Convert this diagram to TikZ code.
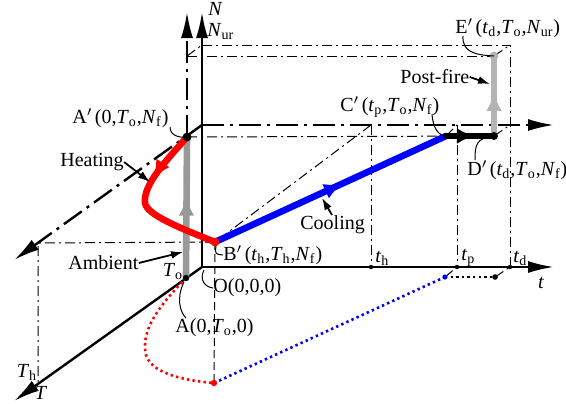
\documentclass[tikz,border=0pt]{standalone}
\usepackage{fontspec}
\setmainfont{Liberation Serif}
\usetikzlibrary{arrows.meta,calc,positioning,decorations.markings}
\definecolor{HeatRed}{HTML}{FF0000}
\definecolor{CoolBlue}{HTML}{0000FF}
\definecolor{AmbientGray}{HTML}{999999}
\definecolor{PostGray}{HTML}{B4B4B4}
\newcommand{\tv}[2]{\textit{#1}\textsubscript{#2}}
\newcommand{\pr}{$'$\hspace{0.12em}}

\begin{document}
\begin{tikzpicture}[x=0.5pt,y=-0.5pt,
    every node/.style={inner sep=0pt,font=\fontsize{10}{12}\selectfont},
    axis/.style={line width=1.2pt,-{Latex[length=13pt,width=6pt]}},
    shiftaxis/.style={line width=1.2pt,
      dash pattern=on 11pt off 3pt on 1.5pt off 3pt,
      -{Latex[length=13pt,width=6pt]}},
    guide/.style={line width=0.5pt,dash pattern=on 5pt off 2pt on 1pt off 2pt},
    leader/.style={line width=0.5pt},
    pointer/.style={line width=0.9pt,-{Latex[length=6pt,width=4pt]}},
    stage/.style={line width=3.3pt,line cap=round},
    midarrow/.style={postaction={decorate,decoration={markings,
      mark=at position #1 with {\arrow{Latex[length=9pt,width=8pt]}}}}},
    projdots/.style={line width=1.3pt,dash pattern=on 1.2pt off 1.6pt}]

  \useasboundingbox (0,0) rectangle (566,403);

  % axes plane and shifted plane
  \coordinate (O) at (202,267);
  \coordinate (Ntip) at (202,12);
  \coordinate (ttip) at (554,267);
  \coordinate (Ttip) at (14,401);
  \coordinate (A) at (186,278);
  \coordinate (Ap) at (187,137);
  \coordinate (Bp) at (215,242);
  \coordinate (Cp) at (446,136);
  \coordinate (Dp) at (494,136);
  \coordinate (Ep) at (494,56);
  \coordinate (Nf) at (202,125);
  \coordinate (Nur) at (202,45);
  \coordinate (Nuro) at (187,56);
  \coordinate (th) at (371,267);
  \coordinate (tp) at (457,267);
  \coordinate (td) at (510,267);
  \coordinate (thf) at (371,125);
  \coordinate (tpf) at (457,125);
  \coordinate (tdf) at (510,125);
  \coordinate (tdur) at (510,45);
  \coordinate (Th) at (38,383);
  \coordinate (Thf) at (38,243);
  \coordinate (Bq) at (214,383);
  \coordinate (Cq) at (445,277);
  \coordinate (Dq) at (495,277);

  % guide lines
  \draw[guide] (Nur) -- (tdur) -- (td);
  \draw[guide] (Nuro) -- (Ep);
  \draw[guide] (Ap) -- (Dp);
  \draw[guide] (thf) -- (th);
  \draw[guide] (tpf) -- (tp);
  \draw[guide] (thf) -- (Bp);
  \draw[guide] (Bp) -- (Thf) -- (Th);
  \draw[line width=0.5pt,dash pattern=on 4pt off 2pt] (Bp) -- (Bq);
  \draw[guide] (Nuro) -- (Nur);
  \draw[guide] (Ep) -- (tdur);
  \draw[guide] (Dp) -- (tdf);
  \draw[guide] (Cp) -- (tpf);
  \draw[guide] (Cq) -- (tp);
  \draw[guide] (Dq) -- (td);

  % shifted axes at N_f and T_o
  \draw[shiftaxis] (Nf) -- (554,125);
  \draw[shiftaxis] (Nf) -- (14,260);
  \draw[shiftaxis] (Ap) -- (187,12);

  % axes
  \draw[axis] (O) -- (Ntip);
  \draw[axis] (O) -- (ttip);
  \draw[axis] (O) -- (Ttip);

  % projections on N = 0
  \draw[projdots,HeatRed] (A) .. controls (160,305) and (140,330) .. (146,355)
    .. controls (152,375) and (190,381) .. (Bq);
  \draw[projdots,CoolBlue] (Bq) -- (Cq);
  \draw[projdots,black] (Cq) -- (Dq);

  % load path
  \draw[stage,AmbientGray,midarrow=0.57] (A) -- (Ap);
  \draw[stage,HeatRed,midarrow=0.33] (Ap) .. controls (165,162) and (143,185) .. (145,203)
    .. controls (147,215) and (180,228) .. (Bp);
  \draw[stage,CoolBlue,midarrow=0.55] (Bp) -- (Cp);
  \draw[stage,black,midarrow=0.6] (Cp) -- (Dp);
  \draw[stage,PostGray,midarrow=0.54] (Dp) -- (Ep);

  % points
  \fill[black] (Ap) circle[radius=2.2pt];
  \fill[black] (A) circle[radius=1.6pt];
  \fill[HeatRed] (Bp) circle[radius=2.2pt];
  \fill[black] (Dp) circle[radius=2pt];
  \fill[PostGray] (Ep) circle[radius=2.2pt];
  \fill[HeatRed] (Bq) circle[radius=1.6pt];
  \fill[CoolBlue] (Cq) circle[radius=1.3pt];
  \fill[black] (Dq) circle[radius=1.4pt];
  \foreach \tk in {th,tp,td}
    \fill[black] (\tk) circle[radius=1.1pt];

  % axis labels
  \node (lblN) [anchor=west] at (208,9) {\textit{N}};
  \node (lblNur) [anchor=west] at (207,32) {\tv{N}{ur}};
  \node (lblt) at (541,283) {\textit{t}};
  \node (lblT) at (41,393) {\textit{T}};
  \node (lblTh) at (27,372) {\tv{T}{h}};
  \node (lblTo) at (173,272) {\tv{T}{o}};
  \node (lblth) [anchor=west] at (375,258) {\tv{t}{h}};
  \node (lbltp) [anchor=west] at (461,258) {\tv{t}{p}};
  \node (lbltd) [anchor=west] at (513,258) {\tv{t}{d}};

  % point labels
  \node (lblAp) [anchor=west] at (72,118) {A\pr(0,\tv{T}{o},\tv{N}{f})};
  \node (lblO) [anchor=west] at (213,288) {O(0,0,0)};
  \node (lblA) [anchor=west] at (175,328) {A(0,\tv{T}{o},0)};
  \node (lblBp) [anchor=west] at (223,255) {B\pr(\tv{t}{h},\tv{T}{h},\tv{N}{f})};
  \node (lblCp) [anchor=west] at (340,107) {C\pr(\tv{t}{p},\tv{T}{o},\tv{N}{f})};
  \node (lblDp) [anchor=west] at (467,170) {D\pr(\tv{t}{d},\tv{T}{o},\tv{N}{f})};
  \node (lblEp) [anchor=west] at (455,28) {E\pr(\tv{t}{d},\tv{T}{o},\tv{N}{ur})};

  \coordinate (ApL) at (170,127);
  \coordinate (OL) at (204,270);
  \coordinate (AL) at (184,282);
  \coordinate (BpL) at (216,246);
  \coordinate (CpL) at (432,114);
  \coordinate (DpL) at (475,160);
  \coordinate (EpL) at (463,36);
  \draw[leader] (ApL) .. controls (170,135) and (178,138) .. (Ap);
  \draw[leader] (OL) .. controls (199,280) and (205,287) .. (lblO.west);
  \draw[leader] (AL) .. controls (176,298) and (180,312) .. (186,318);
  \draw[leader] (BpL) .. controls (215,254) .. (lblBp.west);
  \draw[leader] (CpL) .. controls (433,130) and (440,136) .. (Cp);
  \draw[leader] (Dp) .. controls (476,138) and (475,145) .. (DpL);
  \draw[leader] (EpL) .. controls (462,52) and (475,55) .. (Ep);

  % stage labels
  \node (lblHeat) [anchor=west] at (60,162) {Heating};
  \node (lblAmb) [anchor=west] at (68,263) {Ambient};
  \node (lblCool) [anchor=west] at (300,225) {Cooling};
  \node (lblPost) [anchor=west] at (400,77) {Post-fire};
  \coordinate (heatTip) at (150,182);
  \coordinate (ambTip) at (183,252);
  \coordinate (coolTip) at (322,198);
  \coordinate (postTip) at (490,84);
  \draw[pointer] (lblHeat.east) -- (heatTip);
  \draw[pointer] (lblAmb.east) -- (ambTip);
  \draw[pointer] (332,215) -- (coolTip);
  \draw[pointer] (lblPost.east) -- (postTip);

\end{tikzpicture}
\end{document}
